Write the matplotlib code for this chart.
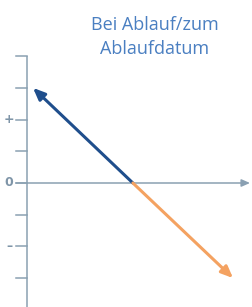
import matplotlib
matplotlib.use("Agg")
import matplotlib.pyplot as plt

# data (payoff of a short call/forward-like position at expiry)
price_long = [0.19, 3.34]     # blue segment x
payoff_long = [3.0, 0.0]
price_short = [3.34, 6.50]    # orange segment x
payoff_short = [0.0, -3.0]
tick_levels = [4, 3, 2, 1, 0, -1, -2, -3]
tick_labels = {2: "+", 0: "0", -2: "\u2013"}
title = "Bei Ablauf/zum\nAblaufdatum"

U = 31.7  # px per unit
W, H = 253, 307
fig = plt.figure(figsize=(W / 100, H / 100), dpi=100)
ax = fig.add_axes([0, 0, 1, 1])
# pixel mapping: origin at (27, 183)
x0, y0 = 27, 183
ax.set_xlim(-x0 / U, (W - x0) / U)
ax.set_ylim(-(H - y0) / U, y0 / U)
ax.axis("off")

axc = "#8aa0b2"
# vertical axis
ax.plot([0, 0], [-(H - y0) / U, 4], color=axc, lw=1.1, solid_capstyle="butt")
# ticks
for t in tick_levels:
    ax.plot([-11 / U, 0], [t, t], color=axc, lw=1.1)
# horizontal axis with arrow
ax.annotate("", xy=(223 / U, 0), xytext=(-11 / U, 0),
            arrowprops=dict(arrowstyle="-|>,head_length=0.5,head_width=0.22",
                            color=axc, lw=1.1, shrinkA=0, shrinkB=0))
for t, lab in tick_labels.items():
    ax.text(-18 / U, t, lab, color="#7f95a8", fontsize=9, fontweight="bold",
            ha="center", va="center", family="DejaVu Sans")

# payoff lines
ax.annotate("", xy=(price_long[0], payoff_long[0]), xytext=(price_long[1], payoff_long[1]),
            arrowprops=dict(arrowstyle="-|>,head_length=0.7,head_width=0.3",
                            color="#1f4e8c", lw=2.2, shrinkA=0, shrinkB=0))
ax.annotate("", xy=(price_short[1], payoff_short[1]), xytext=(price_short[0], payoff_short[0]),
            arrowprops=dict(arrowstyle="-|>,head_length=0.7,head_width=0.3",
                            color="#f4a261", lw=2.2, shrinkA=0, shrinkB=0))

fig.text(155 / W, 1 - 37 / H, title, color="#4a7fc1", fontsize=13,
         ha="center", va="center", linespacing=1.45, family="Open Sans")

fig.savefig("out.png", dpi=100)
